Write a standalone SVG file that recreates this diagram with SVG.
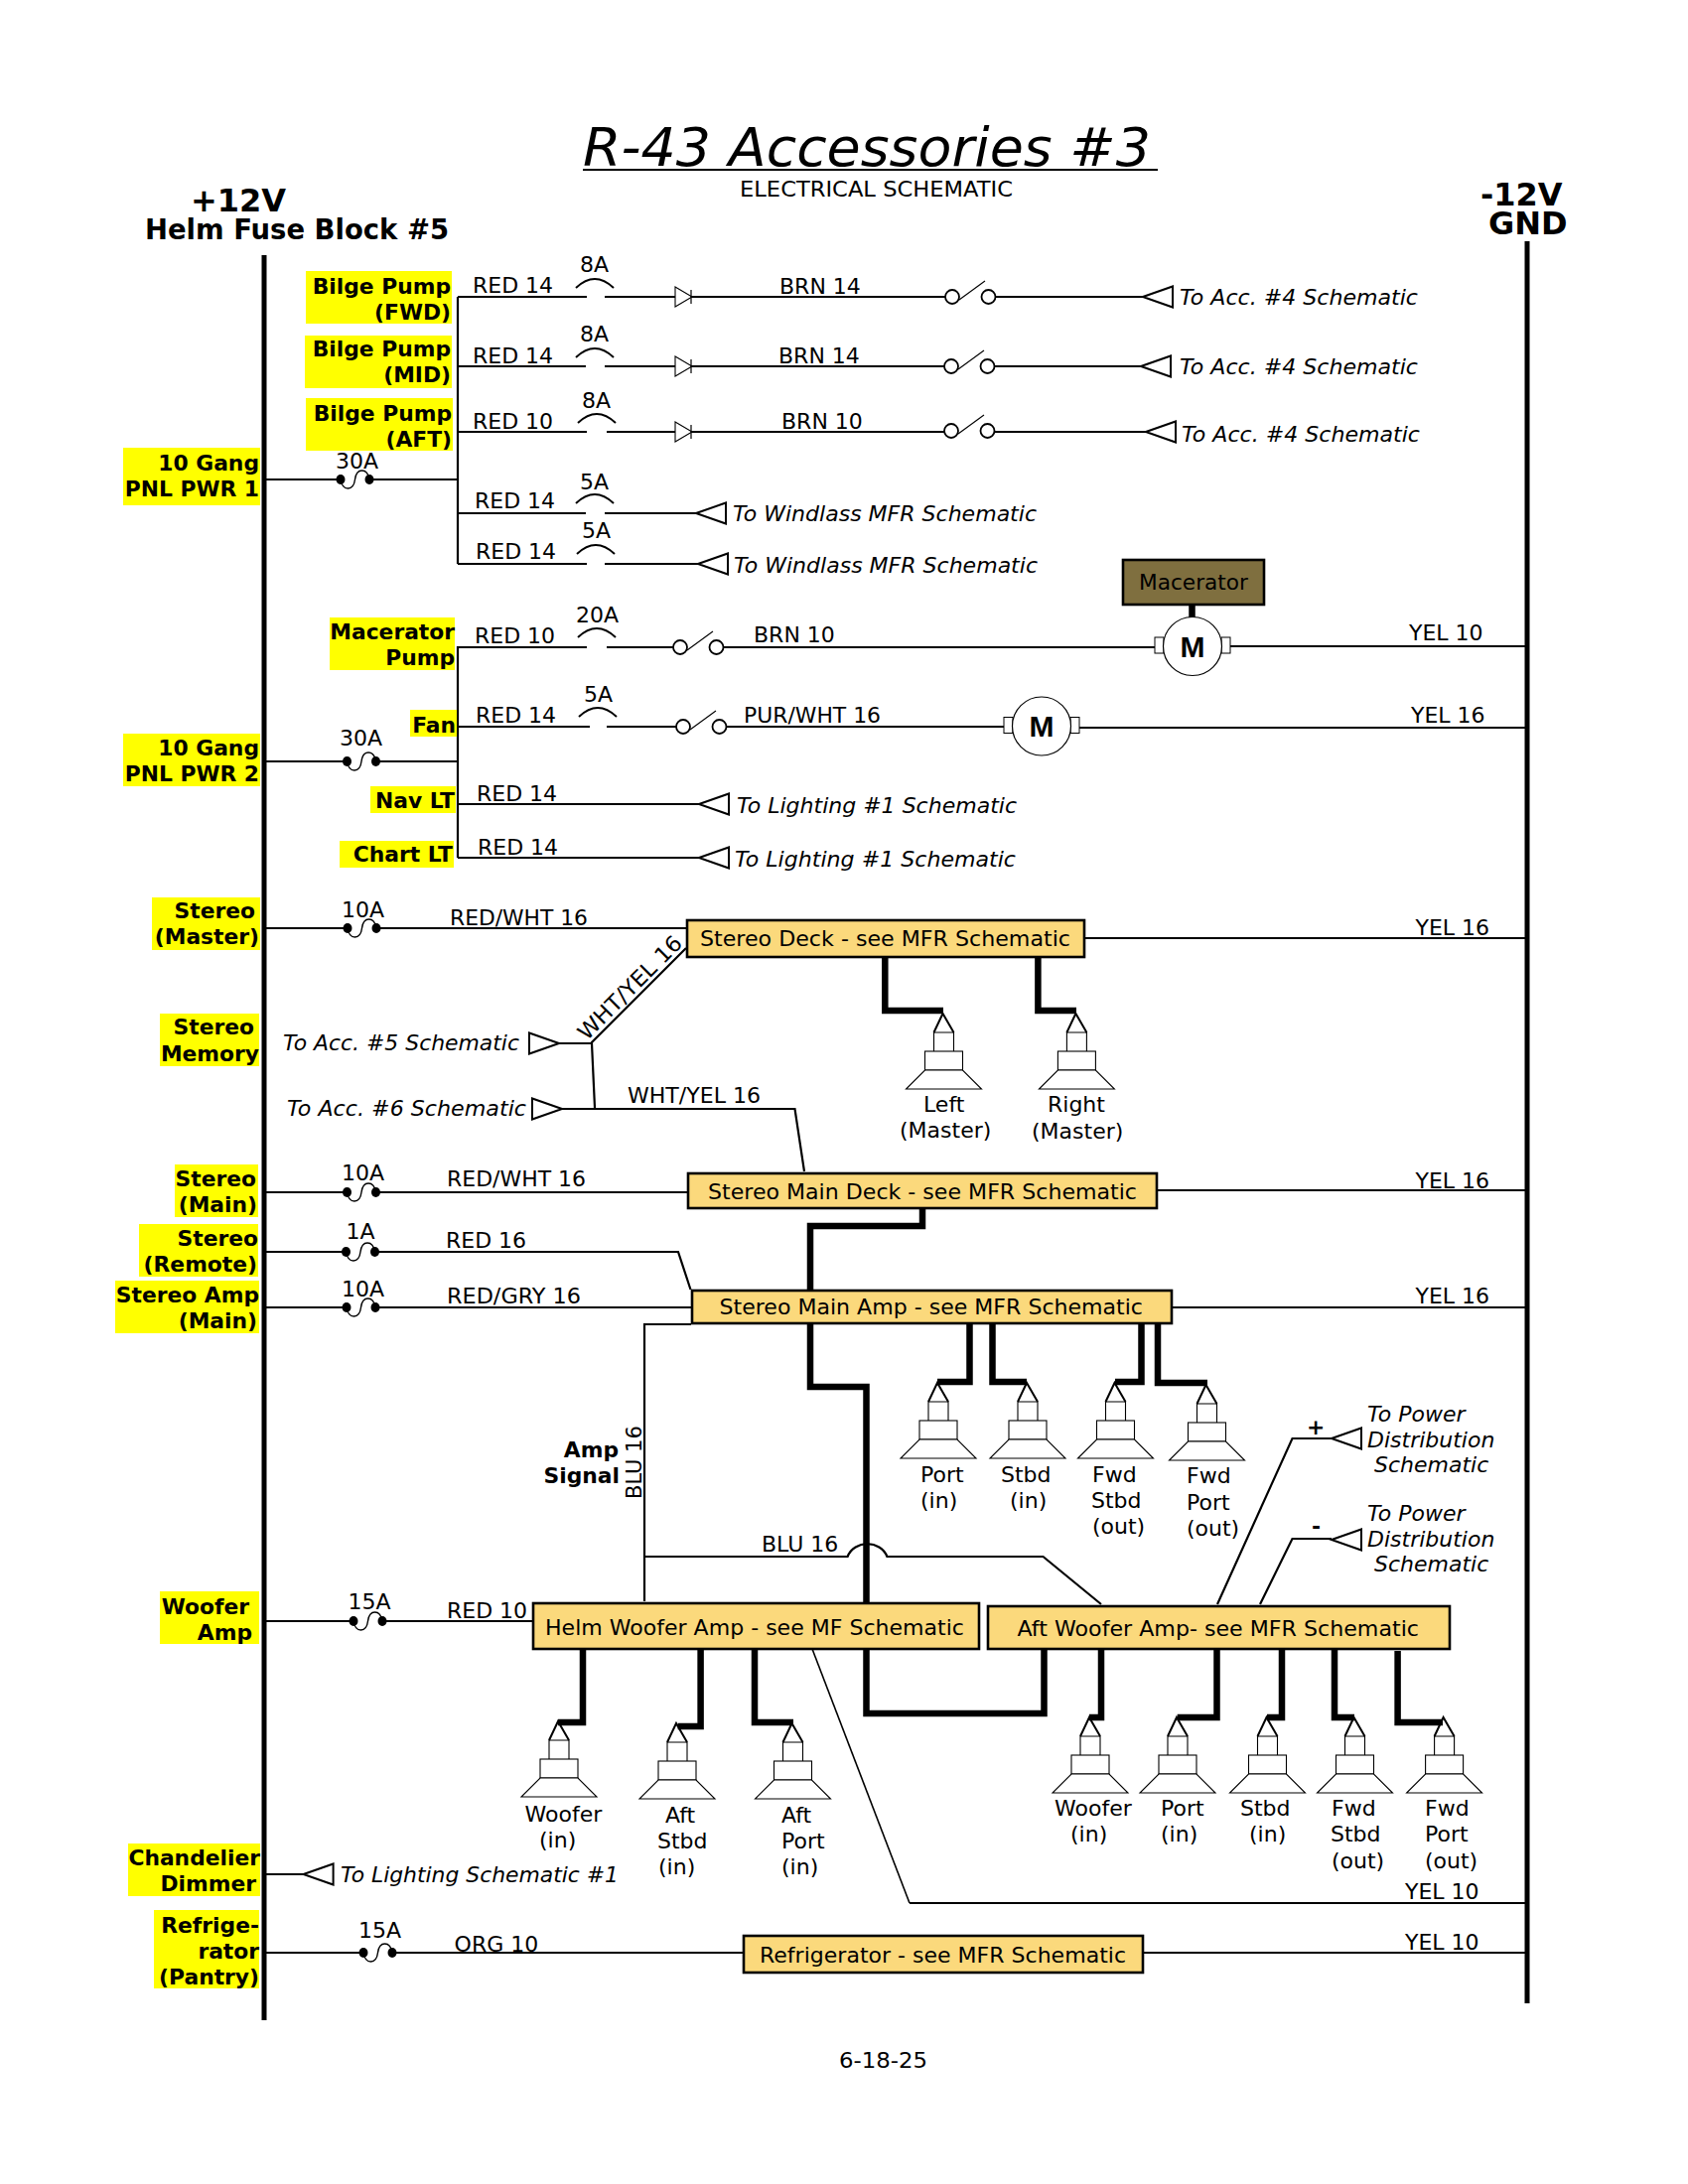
<svg xmlns="http://www.w3.org/2000/svg" width="1700" height="2200" viewBox="0 0 1700 2200">
<style>
text{font-family:"DejaVu Sans","Liberation Sans",sans-serif;font-size:22px;fill:#000}
.b{font-weight:bold;font-size:21.8px}
.i{font-style:italic}
.r{text-anchor:end}
.h{font-size:32px;font-weight:bold}
.m{font-family:"Liberation Sans",Arial,sans-serif;font-size:30px;font-weight:bold;text-anchor:middle}
.w{fill:none;stroke:#000;stroke-width:2.2}
.n{fill:none;stroke:#000;stroke-width:1.6}
.k{fill:none;stroke:#000;stroke-width:6.5;stroke-linejoin:miter}
.y{fill:#ff0}
.bx{fill:#fbd97c;stroke:#000;stroke-width:2.6}
.s{fill:#fff;stroke:#000;stroke-width:1.1}
</style>
<defs>
<g id="fuse"><ellipse cx="0" cy="0" rx="4.5" ry="5" fill="#000"/><ellipse cx="29" cy="0" rx="4.5" ry="5" fill="#000"/><path d="M0 0C2 12 13 12 14.5 0C16 -12 27 -12 29 0" fill="none" stroke="#000" stroke-width="1.4"/></g>
<path id="arc" d="M0 0Q19 -18 38 0" fill="none" stroke="#000" stroke-width="2"/>
<g id="sw"><circle cx="0" cy="0" r="7" fill="#fff" stroke="#000" stroke-width="1.8"/><circle cx="36.5" cy="0" r="7" fill="#fff" stroke="#000" stroke-width="1.8"/><path d="M7 3L33 -16" fill="none" stroke="#000" stroke-width="1.1"/></g>
<polygon id="arl" points="0,0 30,-10.5 30,10.5" fill="#fff" stroke="#000" stroke-width="2"/>
<polygon id="arr" points="0,0 -30,-10.5 -30,10.5" fill="#fff" stroke="#000" stroke-width="2"/>
<g id="dio"><polygon points="0,-10 17,0 0,10" fill="#fff" stroke="#000" stroke-width="1.1"/><path d="M16 -7V7" stroke="#000" stroke-width="1.2"/></g>
<g id="mot"><rect x="-38" y="-9" width="9" height="16" fill="#fff" stroke="#000" stroke-width="1"/><rect x="29" y="-9" width="9" height="16" fill="#fff" stroke="#000" stroke-width="1"/><circle cx="0" cy="0" r="29.5" fill="#fff" stroke="#000" stroke-width="1.2"/></g>
<g id="spk"><path d="M-10 0V-19H10V0" class="s"/><path d="M-10 -19L-1 -38L10 -19" fill="none" stroke="#000" stroke-width="2"/><rect x="-19" y="0" width="38" height="19" class="s"/><polygon points="-19,19 19,19 38,38 -38,38" class="s"/></g>
</defs>
<rect width="1700" height="2200" fill="#fff"/>

<g id="connectors">
<path class="w" d="M461 299V568"/>
<path class="w" d="M461 299H591M609 299H959M1003 299H1151"/>
<path class="w" d="M461 369H590M609 369H958M1002 369H1149"/>
<path class="w" d="M461 435H591M611 435H958M1002 435H1154"/>
<path class="w" d="M268 483H343M372 483H461"/>
<path class="w" d="M461 517H590M609 517H701"/>
<path class="w" d="M461 568H591M609 568H703"/>
<path class="w" d="M461 651V864"/>
<path class="w" d="M461 652H591M611 652H685M721 652H1164M1239 651H1536"/>
<path class="w" d="M461 732H594M611 732H688M724 732H1012M1085 733H1536"/>
<path class="w" d="M268 767H349M379 767H461"/>
<path class="w" d="M461 810H704"/>
<path class="w" d="M461 864H704"/>
<path class="w" d="M268 935H350M379 935H691M1093 945H1536"/>
<path class="w" d="M691 955L596 1050V1051H563M596 1051L599 1116"/>
<path class="w" d="M566 1117H800.5L810 1180"/>
<path class="w" d="M268 1201H349M379 1201H697M1166 1199H1536"/>
<path class="w" d="M268 1261H348M378 1261H683L695.5 1299"/>
<path class="w" d="M268 1317H349M378 1317H696M1181 1317H1536"/>
<path class="w" d="M696 1334H649V1613"/>
<path class="w" d="M649 1568H853.6C860 1551 887 1551 893.4 1568H1050.5L1109 1616"/>
<path class="w" d="M1341 1449H1301.5L1226 1616"/>
<path class="w" d="M1341 1550H1301.5L1269 1616"/>
<path class="w" d="M268 1633H356M385 1633H536"/>
<path class="w" d="M268 1888H305.6"/>
<path class="w" d="M268 1967H366M399 1967H748M1151 1967H1536"/>
<path class="n" d="M818 1661L916 1917"/>
<path class="w" d="M916 1917H1536"/>
<path class="k" d="M1200.5 609V622"/>
<path class="k" d="M929 1217V1235H816V1397H872.5V1726H1051.5V1661"/>
<path class="k" d="M891.3 964V1018H950"/>
<path class="k" d="M1045.4 964V1018H1084"/>
<path class="k" d="M976.5 1333V1392H944"/>
<path class="k" d="M999.5 1333V1392H1034"/>
<path class="k" d="M1149.5 1333V1392H1123"/>
<path class="k" d="M1166 1331V1393H1216"/>
<path class="k" d="M587 1661V1735H562"/>
<path class="k" d="M705.6 1660V1739H682.7"/>
<path class="k" d="M760 1661V1735H799"/>
<path class="k" d="M1109 1661V1730H1097"/>
<path class="k" d="M1225.5 1661V1730H1185.7"/>
<path class="k" d="M1291 1661V1730H1276"/>
<path class="k" d="M1344 1661V1730H1364"/>
<path class="k" d="M1407.6 1663V1735H1453"/>
</g>

<g id="rails">
<rect x="263.5" y="257" width="5" height="1778" fill="#000"/>
<rect x="1535.5" y="243" width="5" height="1775" fill="#000"/>
</g>

<g id="title">
<text class="i" x="587" y="167" style="font-size:54px" textLength="572" lengthAdjust="spacingAndGlyphs">R-43 Accessories #3</text>
<path d="M587 171H1166" stroke="#000" stroke-width="2.2"/>
<text x="745" y="198" textLength="275" lengthAdjust="spacingAndGlyphs">ELECTRICAL SCHEMATIC</text>
</g>
<g id="head-plus"><text class="h" x="192" y="213">+12V</text><text class="b" x="146" y="241" style="font-size:28px" textLength="306" lengthAdjust="spacingAndGlyphs">Helm Fuse Block #5</text></g>
<g id="head-minus"><text class="h" x="1491" y="207">-12V</text><text class="h" x="1499" y="236">GND</text></g>

<g id="lbl-bilge-fwd"><rect class="y" x="308" y="273" width="147" height="53"/><text class="b r" x="454" y="296">Bilge Pump</text><text class="b r" x="454" y="322">(FWD)</text></g>
<g id="lbl-bilge-mid"><rect class="y" x="307" y="338" width="148" height="53"/><text class="b r" x="454" y="359">Bilge Pump</text><text class="b r" x="454" y="385">(MID)</text></g>
<g id="lbl-bilge-aft"><rect class="y" x="308" y="401" width="148" height="53"/><text class="b r" x="455" y="424">Bilge Pump</text><text class="b r" x="455" y="450">(AFT)</text></g>
<g id="lbl-pnl1"><rect class="y" x="124" y="451" width="138" height="58"/><text class="b r" x="261" y="474">10 Gang</text><text class="b r" x="261" y="500">PNL PWR 1</text></g>
<g id="lbl-mac"><rect class="y" x="332" y="622" width="126" height="53"/><text class="b r" x="458" y="644">Macerator</text><text class="b r" x="458" y="670">Pump</text></g>
<g id="lbl-fan"><rect class="y" x="413" y="715" width="47" height="27"/><text class="b r" x="459" y="738">Fan</text></g>
<g id="lbl-pnl2"><rect class="y" x="124" y="739" width="138" height="53"/><text class="b r" x="261" y="761">10 Gang</text><text class="b r" x="261" y="787">PNL PWR 2</text></g>
<g id="lbl-nav"><rect class="y" x="373" y="792" width="86" height="27"/><text class="b r" x="458" y="814">Nav LT</text></g>
<g id="lbl-chart"><rect class="y" x="342" y="847" width="115" height="27"/><text class="b r" x="456" y="868">Chart LT</text></g>
<g id="lbl-master"><rect class="y" x="153" y="904" width="109" height="53"/><text class="b r" x="257" y="925">Stereo</text><text class="b r" x="261" y="951">(Master)</text></g>
<g id="lbl-memory"><rect class="y" x="161" y="1021" width="100" height="53"/><text class="b r" x="256" y="1042">Stereo</text><text class="b r" x="261" y="1069">Memory</text></g>
<g id="lbl-main"><rect class="y" x="176" y="1173" width="84" height="53"/><text class="b r" x="258" y="1195">Stereo</text><text class="b r" x="259" y="1221">(Main)</text></g>
<g id="lbl-remote"><rect class="y" x="140" y="1233" width="120" height="53"/><text class="b r" x="260" y="1255">Stereo</text><text class="b r" x="259" y="1281">(Remote)</text></g>
<g id="lbl-ampmain"><rect class="y" x="116" y="1290" width="145" height="53"/><text class="b r" x="261" y="1312">Stereo Amp</text><text class="b r" x="259" y="1338">(Main)</text></g>
<g id="lbl-woofer"><rect class="y" x="161" y="1603" width="100" height="53"/><text class="b r" x="251" y="1626">Woofer</text><text class="b r" x="254" y="1652">Amp</text></g>
<g id="lbl-chand"><rect class="y" x="129" y="1857" width="133" height="53"/><text class="b r" x="262" y="1879">Chandelier</text><text class="b r" x="258" y="1905">Dimmer</text></g>
<g id="lbl-refrig"><rect class="y" x="155" y="1924" width="106" height="79"/><text class="b r" x="261" y="1947">Refrige-</text><text class="b r" x="261" y="1973">rator</text><text class="b r" x="261" y="1999">(Pantry)</text></g>
<g id="lbl-ampsig"><text class="b r" x="623" y="1468">Amp</text><text class="b r" x="624" y="1494">Signal</text></g>

<g id="row-bilge-fwd">
<text x="476" y="295">RED 14</text><text x="584" y="274">8A</text><use href="#arc" x="580" y="290"/>
<use href="#dio" x="680" y="299"/><text x="785" y="296">BRN 14</text><use href="#sw" x="959" y="299"/>
<use href="#arl" x="1151" y="299"/><text class="i" x="1188" y="307" textLength="240" lengthAdjust="spacingAndGlyphs">To Acc. #4 Schematic</text>
</g>
<g id="row-bilge-mid">
<text x="476" y="366">RED 14</text><text x="584" y="344">8A</text><use href="#arc" x="580" y="360"/>
<use href="#dio" x="680" y="369"/><text x="784" y="366">BRN 14</text><use href="#sw" x="958" y="369"/>
<use href="#arl" x="1149" y="369"/><text class="i" x="1188" y="377" textLength="240" lengthAdjust="spacingAndGlyphs">To Acc. #4 Schematic</text>
</g>
<g id="row-bilge-aft">
<text x="476" y="432">RED 10</text><text x="586" y="411">8A</text><use href="#arc" x="582" y="426"/>
<use href="#dio" x="680" y="435"/><text x="787" y="432">BRN 10</text><use href="#sw" x="958" y="434"/>
<use href="#arl" x="1154" y="435"/><text class="i" x="1190" y="445" textLength="240" lengthAdjust="spacingAndGlyphs">To Acc. #4 Schematic</text>
</g>
<g id="fuse-30a-1"><text x="338" y="472">30A</text><use href="#fuse" x="343" y="483"/></g>
<g id="row-windlass-1">
<text x="478" y="512">RED 14</text><text x="584" y="493">5A</text><use href="#arc" x="580" y="507"/>
<use href="#arl" x="701" y="517"/><text class="i" x="738" y="525" textLength="306" lengthAdjust="spacingAndGlyphs">To Windlass MFR Schematic</text>
</g>
<g id="row-windlass-2">
<text x="479" y="563">RED 14</text><text x="586" y="542">5A</text><use href="#arc" x="581" y="558"/>
<use href="#arl" x="703" y="568"/><text class="i" x="739" y="577" textLength="306" lengthAdjust="spacingAndGlyphs">To Windlass MFR Schematic</text>
</g>
<g id="macerator"><rect x="1131" y="564" width="142" height="45" fill="#7f6f3f" stroke="#000" stroke-width="2.6"/><text x="1147" y="594" textLength="110" lengthAdjust="spacingAndGlyphs">Macerator</text></g>
<g id="row-macerator">
<text x="478" y="648">RED 10</text><text x="580" y="627">20A</text><use href="#arc" x="582" y="642"/>
<use href="#sw" x="685" y="652"/><text x="759" y="647">BRN 10</text>
<use href="#mot" x="1201" y="651"/><text class="m" x="1201" y="662">M</text><text x="1419" y="645">YEL 10</text>
</g>
<g id="row-fan">
<text x="479" y="728">RED 14</text><text x="588" y="707">5A</text><use href="#arc" x="583" y="722"/>
<use href="#sw" x="688" y="732"/><text x="749" y="728" textLength="138" lengthAdjust="spacingAndGlyphs">PUR/WHT 16</text>
<use href="#mot" x="1049" y="731.5"/><text class="m" x="1049" y="742">M</text><text x="1421" y="728">YEL 16</text>
</g>
<g id="fuse-30a-2"><text x="342" y="751">30A</text><use href="#fuse" x="349.5" y="767"/></g>
<g id="row-nav"><text x="480" y="807">RED 14</text><use href="#arl" x="704" y="810"/><text class="i" x="742" y="819" textLength="282" lengthAdjust="spacingAndGlyphs">To Lighting #1 Schematic</text></g>
<g id="row-chart"><text x="481" y="861">RED 14</text><use href="#arl" x="704" y="864"/><text class="i" x="740" y="873" textLength="283" lengthAdjust="spacingAndGlyphs">To Lighting #1 Schematic</text></g>

<g id="row-deck-feed"><text x="344" y="924">10A</text><use href="#fuse" x="350" y="935"/><text x="453" y="932" textLength="139" lengthAdjust="spacingAndGlyphs">RED/WHT 16</text><text x="1425.5" y="942">YEL 16</text></g>
<g id="stereo-deck"><rect class="bx" x="692" y="927" width="400" height="37"/><text x="705" y="953" textLength="373" lengthAdjust="spacingAndGlyphs">Stereo Deck - see MFR Schematic</text></g>
<text transform="rotate(-45 591 1049)" x="591" y="1049" textLength="138" lengthAdjust="spacingAndGlyphs">WHT/YEL 16</text>
<g id="to-acc-5"><text class="i" x="285" y="1058" textLength="238" lengthAdjust="spacingAndGlyphs">To Acc. #5 Schematic</text><use href="#arr" x="563" y="1051"/></g>
<g id="to-acc-6"><text class="i" x="289" y="1124" textLength="241" lengthAdjust="spacingAndGlyphs">To Acc. #6 Schematic</text><use href="#arr" x="566" y="1117"/></g>
<text x="632" y="1111" textLength="134" lengthAdjust="spacingAndGlyphs">WHT/YEL 16</text>
<g id="spk-left"><use href="#spk" x="950.5" y="1059"/><text x="930" y="1120">Left</text><text x="906" y="1146">(Master)</text></g>
<g id="spk-right"><use href="#spk" x="1084.4" y="1059"/><text x="1055" y="1120">Right</text><text x="1039" y="1147">(Master)</text></g>

<g id="row-main-feed"><text x="344" y="1189">10A</text><use href="#fuse" x="349.5" y="1201"/><text x="450" y="1195" textLength="140" lengthAdjust="spacingAndGlyphs">RED/WHT 16</text><text x="1425.5" y="1197">YEL 16</text></g>
<g id="stereo-main-deck"><rect class="bx" x="693" y="1182" width="472" height="35"/><text x="713" y="1208" textLength="432" lengthAdjust="spacingAndGlyphs">Stereo Main Deck - see MFR Schematic</text></g>
<g id="row-remote"><text x="348.5" y="1248">1A</text><use href="#fuse" x="348.5" y="1261"/><text x="449" y="1257">RED 16</text></g>
<g id="row-amp-feed"><text x="344" y="1306">10A</text><use href="#fuse" x="349" y="1317"/><text x="450" y="1313" textLength="135" lengthAdjust="spacingAndGlyphs">RED/GRY 16</text><text x="1425.5" y="1313">YEL 16</text></g>
<g id="stereo-main-amp"><rect class="bx" x="697" y="1300" width="483" height="33"/><text x="724.5" y="1324" textLength="426.5" lengthAdjust="spacingAndGlyphs">Stereo Main Amp - see MFR Schematic</text></g>

<text transform="rotate(-90 646 1510)" x="646" y="1510" style="font-size:21px">BLU 16</text>
<text x="767" y="1563">BLU 16</text>

<g id="spk-port-in"><use href="#spk" x="945" y="1431"/><text x="927" y="1493">Port</text><text x="927" y="1519">(in)</text></g>
<g id="spk-stbd-in"><use href="#spk" x="1035" y="1431"/><text x="1008" y="1493">Stbd</text><text x="1017" y="1519">(in)</text></g>
<g id="spk-fwd-stbd"><use href="#spk" x="1123.5" y="1431"/><text x="1100" y="1493">Fwd</text><text x="1099" y="1519">Stbd</text><text x="1100" y="1545">(out)</text></g>
<g id="spk-fwd-port"><use href="#spk" x="1215.5" y="1433"/><text x="1195" y="1494">Fwd</text><text x="1195" y="1521">Port</text><text x="1195" y="1547">(out)</text></g>

<g id="pwr-plus"><text class="b" x="1316" y="1445">+</text><use href="#arl" x="1341" y="1449"/><text class="i" x="1377" y="1432">To Power</text><text class="i" x="1377" y="1458">Distribution</text><text class="i" x="1384" y="1483">Schematic</text></g>
<g id="pwr-minus"><text class="b" x="1321" y="1545">-</text><use href="#arl" x="1341" y="1551"/><text class="i" x="1377" y="1532">To Power</text><text class="i" x="1377" y="1558">Distribution</text><text class="i" x="1384" y="1583">Schematic</text></g>

<g id="row-woofer-feed"><text x="350.5" y="1621">15A</text><use href="#fuse" x="356" y="1633"/><text x="450" y="1630">RED 10</text></g>
<g id="helm-woofer-amp"><rect class="bx" x="537" y="1615" width="449" height="46"/><text x="549" y="1647" textLength="422" lengthAdjust="spacingAndGlyphs">Helm Woofer Amp - see MF Schematic</text></g>
<g id="aft-woofer-amp"><rect class="bx" x="995" y="1618" width="465" height="43"/><text x="1024.5" y="1648" textLength="404.5" lengthAdjust="spacingAndGlyphs">Aft Woofer Amp- see MFR Schematic</text></g>

<g id="spk-woofer-h"><use href="#spk" x="563" y="1772"/><text x="528.6" y="1835">Woofer</text><text x="543" y="1861">(in)</text></g>
<g id="spk-aft-stbd"><use href="#spk" x="682" y="1774"/><text x="670" y="1836">Aft</text><text x="662" y="1862">Stbd</text><text x="663" y="1888">(in)</text></g>
<g id="spk-aft-port"><use href="#spk" x="798.5" y="1774"/><text x="787" y="1836">Aft</text><text x="787" y="1862">Port</text><text x="787" y="1888">(in)</text></g>
<g id="spk-woofer-a"><use href="#spk" x="1098" y="1768"/><text x="1062" y="1829">Woofer</text><text x="1078" y="1855">(in)</text></g>
<g id="spk-port-a"><use href="#spk" x="1186" y="1768"/><text x="1169" y="1829">Port</text><text x="1169" y="1855">(in)</text></g>
<g id="spk-stbd-a"><use href="#spk" x="1276.5" y="1768"/><text x="1249" y="1829">Stbd</text><text x="1258" y="1855">(in)</text></g>
<g id="spk-fs-a"><use href="#spk" x="1364.5" y="1768"/><text x="1341" y="1829">Fwd</text><text x="1340" y="1855">Stbd</text><text x="1341" y="1882">(out)</text></g>
<g id="spk-fp-a"><use href="#spk" x="1454.6" y="1768"/><text x="1435" y="1829">Fwd</text><text x="1435" y="1855">Port</text><text x="1435" y="1882">(out)</text></g>

<text x="1415" y="1913">YEL 10</text>
<g id="to-lighting"><use href="#arl" x="305.6" y="1888"/><text class="i" x="343" y="1896" textLength="280" lengthAdjust="spacingAndGlyphs">To Lighting Schematic #1</text></g>
<g id="row-refrig"><text x="361" y="1952">15A</text><use href="#fuse" x="366" y="1967"/><text x="457.6" y="1966">ORG 10</text><text x="1415" y="1964">YEL 10</text></g>
<g id="refrigerator"><rect class="bx" x="749" y="1950" width="402" height="37"/><text x="765" y="1977" textLength="369" lengthAdjust="spacingAndGlyphs">Refrigerator - see MFR Schematic</text></g>
<text x="845" y="2083" textLength="89" lengthAdjust="spacingAndGlyphs">6-18-25</text>
</svg>
